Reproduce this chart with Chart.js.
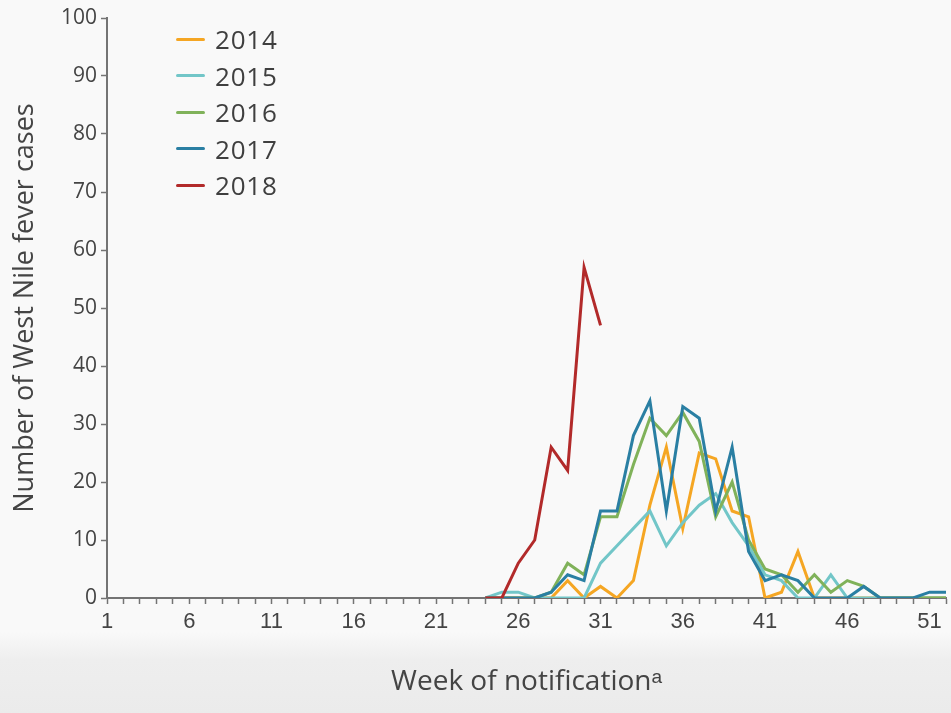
<!DOCTYPE html>
<html>
<head>
<meta charset="utf-8">
<script src="https://cdn.jsdelivr.net/npm/chart.js@4.4.1/dist/chart.umd.min.js"></script>
<style>
  html, body { margin:0; padding:0; }
  body {
    width:951px; height:713px; overflow:hidden;
    background: linear-gradient(to bottom, #f9f9f9 0px, #f9f9f9 632px, #eeeeee 660px, #ebebeb 713px);
    font-family: 'Open Sans', sans-serif;
  }
  .wrap { position:relative; width:951px; height:713px; }
  .legend { position:absolute; left:176px; top:21px; }
  .legend-row { display:flex; align-items:center; height:36.5px; }
  .legend-swatch { width:29px; height:3px; border-radius:2px; margin-right:10px; }
  .legend-label { font-family:'Open Sans', sans-serif; font-size:26px; color:#3f3f3f; letter-spacing:0.8px; }
</style>
</head>
<body>
<div class="wrap">
  <canvas id="wnChart"></canvas>
  <div class="legend" id="legend"></div>
</div>
<script>
/* ---------- Data (weekly WNF cases) ---------- */
const seasonLabels = ['2014', '2015', '2016', '2017', '2018'];
const seasonColors = ['#f5a623', '#72c6c8', '#80b25a', '#2a7fa3', '#b22a2a'];

const weeks = [24, 25, 26, 27, 28, 29, 30, 31, 32, 33, 34, 35, 36, 37, 38,
               39, 40, 41, 42, 43, 44, 45, 46, 47, 48, 49, 50, 51, 52];

const cases2014 = [0, 0, 0, 0, 0, 3, 0, 2, 0, 3, 16, 26, 12, 25, 24,
                   15, 14, 0, 1, 8, 0, 0, 0, 0, 0, 0, 0, 0, 0];
const cases2015 = [0, 1, 1, 0, 0, 0, 0, 6, 9, 12, 15, 9, 13, 16, 18,
                   13, 9, 4, 3, 0, 0, 4, 0, 0, 0, 0, 0, 0, 0];
const cases2016 = [0, 0, 0, 0, 1, 6, 4, 14, 14, 23, 31, 28, 32, 27, 14,
                   20, 10, 5, 4, 1, 4, 1, 3, 2, 0, 0, 0, 0, 0];
const cases2017 = [0, 0, 0, 0, 1, 4, 3, 15, 15, 28, 34, 15, 33, 31, 15,
                   26, 8, 3, 4, 3, 0, 0, 0, 2, 0, 0, 0, 1, 1];
const cases2018 = [0, 0, 6, 10, 26, 22, 57, 47];

const seasonValues = [cases2014, cases2015, cases2016, cases2017, cases2018];

const xTicksShown = [1, 6, 11, 16, 21, 26, 31, 36, 41, 46, 51];

/* ---------- Chart ---------- */
const axisGrey = '#747474';
const textGrey = '#444444';

const datasets = seasonLabels.map((label, i) => ({
  label,
  data: seasonValues[i].map((v, k) => ({ x: weeks[k], y: v })),
  borderColor: seasonColors[i],
  backgroundColor: seasonColors[i],
  borderWidth: 3,
  pointRadius: 0,
  tension: 0,
  fill: false,
  order: seasonLabels.length - i   // later seasons on top
}));

const ctx = document.getElementById('wnChart').getContext('2d');
new Chart(ctx, {
  type: 'line',
  data: { datasets },
  options: {
    responsive: true,
    maintainAspectRatio: false,
    animation: false,
    layout: { padding: { top: 18, right: 5, left: 0, bottom: 0 } },
    plugins: { legend: { display: false }, tooltip: { enabled: false } },
    scales: {
      x: {
        type: 'linear', min: 1, max: 52,
        afterFit: (s) => { s.height = 115; },
        border: { color: axisGrey, width: 2 },
        grid: { drawOnChartArea: false, drawTicks: true, tickLength: 6, tickColor: axisGrey, tickWidth: 1.5 },
        ticks: {
          stepSize: 1, autoSkip: false, maxRotation: 0, padding: 5,
          color: textGrey,
          font: { family: "'Liberation Sans Narrow', sans-serif", size: 22 },
          callback: (v) => xTicksShown.includes(v) ? String(v) : ''
        },
        title: {
          display: true, text: 'Week of notificationᵃ', color: textGrey,
          font: { family: "'Open Sans', sans-serif", size: 28 },
          padding: { top: 0, bottom: 14 }
        }
      },
      y: {
        min: 0, max: 100,
        afterFit: (s) => { s.width = 107; },
        border: { color: axisGrey, width: 2 },
        grid: { drawOnChartArea: false, drawTicks: true, tickLength: 6, tickColor: axisGrey, tickWidth: 1.5 },
        ticks: {
          stepSize: 10, padding: 4, color: textGrey,
          font: { family: "'Open Sans', sans-serif", size: 21 }
        },
        title: {
          display: true, text: 'Number of West Nile fever cases', color: textGrey,
          font: { family: "'Open Sans', sans-serif", size: 27 },
          padding: { top: 9, bottom: 0 }
        }
      }
    }
  }
});

/* ---------- Legend (vertical, top-left inside plot) ---------- */
document.getElementById('legend').innerHTML = seasonLabels.map((label, i) => `
  <div class="legend-row">
    <span class="legend-swatch" style="background:${seasonColors[i]}"></span>
    <span class="legend-label">${label}</span>
  </div>`).join('');
</script>
</body>
</html>
